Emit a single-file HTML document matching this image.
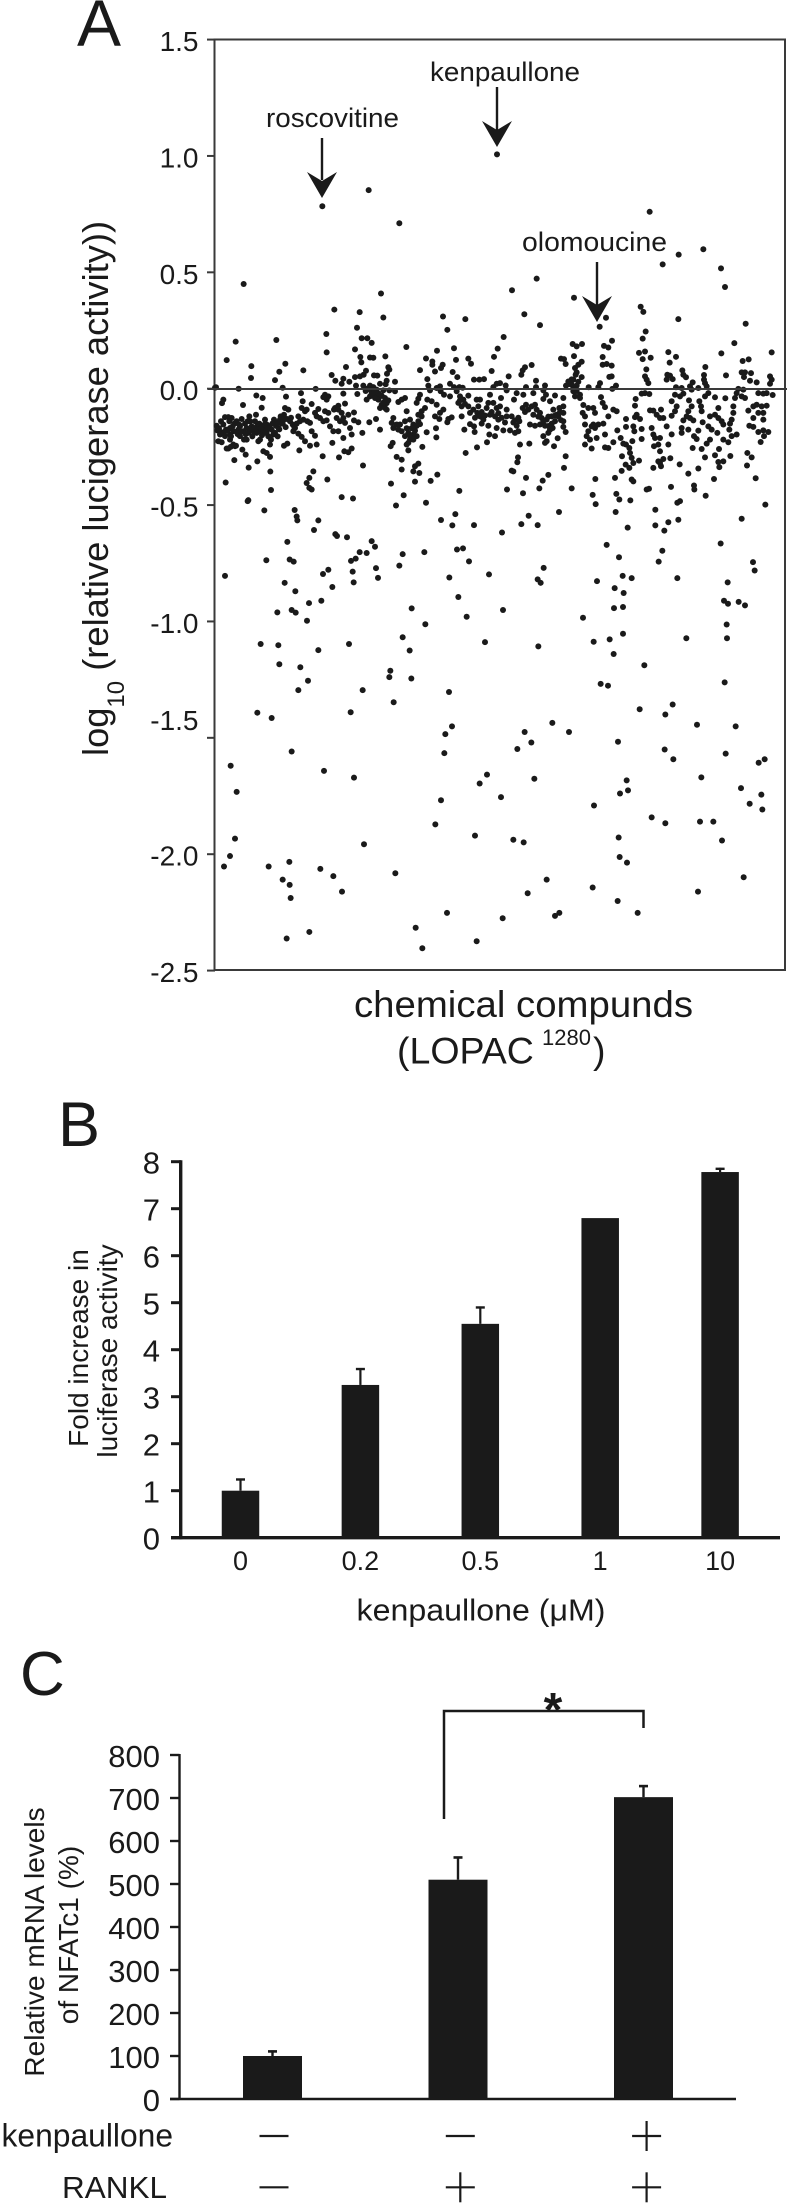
<!DOCTYPE html>
<html lang="en">
<head>
<meta charset="utf-8">
<title>Kenpaullone screening figure</title>
<style>
html,body{margin:0;padding:0;background:#fff;}
body{width:787px;height:2209px;overflow:hidden;}
svg{display:block;}
text{font-family:"Liberation Sans",Arial,sans-serif;fill:#1a1a1a;}
</style>
</head>
<body>
<svg id="figure" xmlns="http://www.w3.org/2000/svg" width="787" height="2209" viewBox="0 0 787 2209">
  <rect x="0" y="0" width="787" height="2209" fill="#fff"/>

  <!-- Panel A -->
  <g id="panel-a">
    <text x="77" y="46" font-size="66">A</text>
    <rect x="214.5" y="39.5" width="570.5" height="930.5" fill="none" stroke="#3a3a3a" stroke-width="2"/>
    <g id="a-ticks"></g>
    <g id="a-points"></g>
    <line x1="208" y1="389" x2="787" y2="389" stroke="#3a3a3a" stroke-width="2"/>
    <text transform="translate(108,756) rotate(-90)" font-size="36.3">log<tspan font-size="24" dy="16">10</tspan><tspan dy="-16"> (relative lucigerase activity))</tspan></text>
    <text x="354" y="1017" font-size="37" textLength="339" lengthAdjust="spacingAndGlyphs">chemical compunds</text>
    <text x="397" y="1063.3" font-size="37.5">(LOPAC<tspan x="542" y="1045" font-size="22">1280</tspan><tspan x="593" y="1063.3">)</tspan></text>

    <text x="266" y="127" font-size="27" textLength="133" lengthAdjust="spacingAndGlyphs">roscovitine</text>
    <line x1="322" y1="138" x2="322" y2="180" stroke="#1a1a1a" stroke-width="2.4"/>
    <path d="M322 198 L307 172 L322 181 L337 172 Z" fill="#1a1a1a"/>
    <text x="430" y="81" font-size="27" textLength="150" lengthAdjust="spacingAndGlyphs">kenpaullone</text>
    <line x1="497" y1="87" x2="497" y2="130" stroke="#1a1a1a" stroke-width="2.4"/>
    <path d="M497 147 L482 121 L497 130 L512 121 Z" fill="#1a1a1a"/>
    <text x="522" y="251" font-size="27" textLength="145" lengthAdjust="spacingAndGlyphs">olomoucine</text>
    <line x1="597" y1="262" x2="597" y2="305" stroke="#1a1a1a" stroke-width="2.4"/>
    <path d="M597 322 L582 296 L597 305 L612 296 Z" fill="#1a1a1a"/>
  </g>

  <!-- Panel B -->
  <g id="panel-b">
    <text x="58" y="1146" font-size="63">B</text>
    <g id="b-marks"></g>
    <text transform="translate(88,1348) rotate(-90)" font-size="28" text-anchor="middle">Fold increase in</text>
    <text transform="translate(117,1351) rotate(-90)" font-size="28" text-anchor="middle">luciferase activity</text>
    <text x="356.5" y="1620.7" font-size="31" textLength="249" lengthAdjust="spacingAndGlyphs">kenpaullone (μM)</text>
  </g>

  <!-- Panel C -->
  <g id="panel-c">
    <text x="20" y="1695" font-size="62">C</text>
    <g id="c-marks"></g>
    <path d="M444 1819 V1711 H643.5 V1728" fill="none" stroke="#1a1a1a" stroke-width="2.5"/>
    <text x="553" y="1726" font-size="48" font-weight="bold" text-anchor="middle">*</text>
    <text transform="translate(44,1942) rotate(-90)" font-size="28" text-anchor="middle">Relative mRNA levels</text>
    <text transform="translate(78,1935) rotate(-90)" font-size="28" text-anchor="middle">of NFATc1 (%)</text>
    <text x="1.5" y="2146.7" font-size="32" textLength="171.5" lengthAdjust="spacingAndGlyphs">kenpaullone</text>
    <text x="62" y="2198" font-size="31" textLength="105" lengthAdjust="spacingAndGlyphs">RANKL</text>
    <g id="c-signs"></g>
  </g>
</svg>

<script>
// ---------- Panel A data: compound rank (0-1710 along the axis) and log10 activity ----------
const scatterTicks = [1.5, 1.0, 0.5, 0.0, -0.5, -1.0, -1.5, -2.0, -2.5];
const scatterTickLabels = ["1.5", "1.0", "0.5", "0.0", "-0.5", "-1.0", "-1.5", "-2.0", "-2.5"];

const outlierRank = [322,461,553,846,1304,1391,1343,1465,1518,1530,86,965,891,498,1077];
const outlierValue = [.784,.853,.711,1.007,.76,.576,.534,.599,.517,.437,.45,.473,.423,.409,.391];

const bandLeftRank = [358,434,505,426,334,440,457,470,184,62,420,335,436,439,465,475,511,35,211,109,393,520,523,265,193,453,516,446,350,420,435,477,487,108,385,180,361,403,380,515,540,512,495,423,445,465,475,3,0,71,203,302,
258,427,455,465,485,505,523,540,385,124,143,213,330,340,325,335,465,455,480,495,490,500,515,510,495,25,21,84,140,263,290,390,370,360,550,
5,7,15,10,20,30,40,50,25,33,45,53,55,45,30,20,45,55,40,60,70,80,75,85,75,87,95,103,105,110,100,95,115,123,120,127,130,135,130,145,150,155,163,155,145,170,175,168,165,177,183,190,197,203,195,207,210,220,225,233,240,235,250,255,265,277,285,270,260,275,300,310,305,315,325,335,330,340,357,370,380,365,375,390,385,400,417,417,430,
345,355,370,405,410,442,463,483,495,250,260,290,300,270,285,305,207,217,253,352,385,
35,47,63,82,92,145,155,165,58,127,101,372,323,388,400,410,444,166,295,283,275,283,290,337,32,168,100,98,380,414,
535,530,535,545,550,533,527,545,528,543];
const bandLeftValue = [.34,.329,.306,.262,.235,.217,.217,.197,.209,.202,.169,.156,.136,.113,.134,.133,.139,.123,.107,.097,.093,.092,.082,.079,.073,.077,.064,.06,.059,.05,.053,.057,.056,.046,.043,.037,.034,.03,.021,.034,.03,.019,.021,.013,.013,.013,.007,.006,.004,0,.004,-.001,
-.019,-.023,-.001,-.004,-.004,-.007,-.007,-.011,-.021,-.029,-.04,-.034,-.026,-.033,-.036,-.047,-.033,-.047,-.026,-.033,-.047,-.069,-.062,-.083,-.083,-.047,-.062,-.07,-.082,-.054,-.066,-.064,-.073,-.083,-.057,
-.159,-.179,-.197,-.226,-.23,-.122,-.122,-.126,-.154,-.176,-.169,-.162,-.183,-.197,-.204,-.187,-.219,-.24,-.257,-.247,-.176,-.13,-.162,-.183,-.204,-.219,-.169,-.119,-.14,-.162,-.19,-.219,-.183,-.112,-.14,-.159,-.183,-.219,-.226,-.169,-.133,-.154,-.162,-.19,-.183,-.176,-.197,-.219,-.24,-.133,-.159,-.169,-.119,-.15,-.133,-.112,-.083,-.09,-.14,-.154,-.169,-.183,-.119,-.14,-.133,-.14,-.147,-.097,-.083,-.09,-.104,-.087,-.119,-.126,-.14,-.136,-.097,-.104,-.09,-.09,-.104,-.126,-.14,-.147,-.126,-.112,-.102,-.136,-.144,
-.162,-.183,-.183,-.169,-.197,-.19,-.144,-.13,-.176,-.193,-.207,-.183,-.202,-.226,-.245,-.24,-.245,-.236,-.265,-.233,-.212,
-.257,-.25,-.245,-.262,-.283,-.269,-.276,-.293,-.307,-.312,-.339,-.295,-.29,-.269,-.273,-.257,-.33,-.356,-.355,-.383,-.405,-.426,-.433,-.39,-.403,-.435,-.479,-.483,-.466,-.472,
-.126,-.147,-.169,-.154,-.176,-.233,-.247,-.293,-.408,-.502];

const bandMidRank = [684,751,928,975,697,866,574,717,666,848,837,633,723,760,652,652,768,683,678,615,950,930,923,919,660,713,727,830,881,777,793,807,637,963,
1073,1085,1101,1077,1038,1047,1052,1100,1090,1080,1082,1100,1075,1060,1070,1053,1085,
705,640,717,675,733,743,665,845,855,872,933,963,990,985,875,835,
570,560,615,610,605,645,677,687,705,725,735,745,760,785,795,825,858,905,897,925,955,993,1020,985,1005,1045,1075,1080,1095,637,650,665,575,630,620,610,685,675,660,673,710,700,697,
730,740,760,740,765,790,787,795,805,800,820,815,835,845,855,825,840,850,820,845,865,875,875,890,900,913,905,923,933,950,955,960,975,980,995,1010,1025,1033,1015,1045,1045,1045,1030,1020,975,960,945,990,1005,1000,985,995,990,1017,1028,1045,1052,1013,885,900,910,
555,570,585,595,610,620,615,560,570,585,595,605,580,595,575,580,622,635,663,664,748,765,777,779,823,840,816,786,752,915,943,
560,610,600,595,560,613,667,647,600,909,907,890,895,933,1000,983,973,1052,1047,1070,876,924,733,566,633,
1103,1110,1120,1110,1120,1115,1110,1121];
const bandMidValue = [.31,.299,.32,.273,.253,.222,.179,.174,.163,.172,.137,.13,.124,.129,.117,.103,.107,.103,.089,.08,.102,.092,.079,.06,.074,.072,.05,.076,.053,.039,.039,.041,.041,.034,
.192,.182,.192,.14,.129,.127,.106,.116,.103,.089,.06,.05,.039,.031,.017,.013,.013,
.021,.013,.007,.01,.007,.004,.003,.021,.024,.014,.007,.007,.014,-.007,-.007,.007,
-.04,-.047,-.026,-.043,-.061,-.007,-.011,-.026,-.033,-.011,-.033,-.047,-.03,-.047,-.047,-.026,-.04,-.019,-.047,-.026,-.019,-.026,-.029,-.044,-.054,-.04,-.011,-.033,-.026,-.047,-.054,-.069,-.097,-.083,-.097,-.112,-.09,-.104,-.119,-.13,-.123,-.13,-.144,
-.061,-.076,-.076,-.119,-.104,-.076,-.104,-.119,-.133,-.15,-.061,-.083,-.061,-.083,-.076,-.112,-.119,-.133,-.159,-.169,-.179,-.09,-.119,-.119,-.136,-.14,-.159,-.083,-.069,-.076,-.112,-.069,-.104,-.126,-.133,-.119,-.112,-.083,-.09,-.076,-.104,-.14,-.119,-.14,-.154,-.159,-.154,-.159,-.176,-.19,-.204,-.226,-.233,-.247,-.213,-.164,-.186,-.169,-.179,-.19,-.183,
-.154,-.14,-.133,-.154,-.14,-.119,-.152,-.183,-.204,-.219,-.197,-.204,-.233,-.219,-.24,-.265,-.25,-.187,-.17,-.209,-.176,-.152,-.162,-.186,-.197,-.204,-.23,-.252,-.276,-.24,-.236,
-.305,-.322,-.333,-.355,-.347,-.362,-.369,-.396,-.399,-.295,-.316,-.352,-.355,-.383,-.37,-.395,-.428,-.29,-.34,-.428,-.433,-.449,-.439,-.458,-.49,
-.104,-.119,-.083,-.154,-.183,-.204,-.24,.006];

const bandRightRank = [1277,1285,1390,1592,1173,1154,1292,1283,1191,1558,1167,1180,1272,1290,1360,1670,1519,1163,1283,1307,1383,1364,1601,1583,1163,1175,1190,1471,1294,1402,
1405,1413,1357,1365,1355,1373,1290,1295,1300,1533,1467,1467,1470,1580,1590,1608,1587,1605,1625,1665,1670,1665,1183,1190,1155,1203,1150,1192,1433,
1383,1400,1425,1450,1475,1570,1585,
1280,1290,1303,1158,1380,1395,1405,1430,1480,1470,1500,1531,1565,1560,1580,1590,1630,1645,1655,1673,
1262,1260,1163,1170,1195,1205,1370,1385,1422,1453,1458,1460,1430,1420,1555,1600,1615,1625,1640,1655,1135,1140,1180,1305,1315,1338,1325,1335,1345,1380,1370,
1265,1260,1275,1233,1415,1425,1435,1405,1510,1500,1485,1510,1520,1525,1555,1550,1545,1615,1630,1645,1645,1603,1615,
1135,1150,1165,1130,1140,1463,1480,1490,1507,1233,1255,1280,1258,1310,1355,1400,1400,1420,1450,1543,1565,1550,1630,1645,1660,1647,1637,1170,1145,1207,
1315,1320,1335,1330,1317,1370,1437,1445,1280,1252,1217,1225,1233,1243,1485,1475,1525,1540,1360,1433,1460,1512,1195,1170,1180,1130,1125,
1245,1250,1255,1221,1272,1232,1243,1220,1335,1345,1335,1330,1338,1315,1366,1394,1470,1500,1510,1525,1513,1546,1597,1610,1596,
1450,1420,1497,1622,1200,1250,1255,1141,1302,1295,1368,1437,1438,1204,1133,1213,1246,1142,1472,1395,1387,1651];
const bandRightValue = [.352,.33,.299,.279,.305,.266,.246,.215,.206,.196,.184,.177,.154,.16,.157,.156,.152,.136,.127,.133,.137,.112,.126,.119,.103,.106,.099,.093,.083,.079,
.06,.049,.06,.056,.039,.041,.053,.039,.024,.057,.059,.039,.024,.07,.07,.067,.05,.034,.027,.053,.039,.021,.051,.053,.024,.013,.007,-.001,.027,
.006,.003,.01,.003,.01,-.001,-.004,
-.021,-.019,-.023,-.036,-.026,-.033,-.021,-.004,-.019,-.033,-.037,-.041,-.019,-.04,-.033,-.04,-.019,-.021,-.019,-.027,
-.044,-.073,-.061,-.079,-.09,-.097,-.054,-.076,-.05,-.054,-.076,-.097,-.076,-.097,-.076,-.094,-.076,-.069,-.076,-.073,-.083,-.104,-.119,-.093,-.094,-.09,-.112,-.126,-.126,-.097,-.116,
-.112,-.122,-.13,-.13,-.119,-.126,-.136,-.136,-.083,-.112,-.119,-.126,-.14,-.154,-.104,-.133,-.15,-.126,-.104,-.104,-.133,-.159,-.164,
-.154,-.154,-.15,-.162,-.169,-.144,-.162,-.176,-.19,-.164,-.162,-.173,-.183,-.169,-.162,-.169,-.19,-.176,-.18,-.176,-.197,-.204,-.186,-.179,-.186,-.204,-.229,-.197,-.212,-.179,
-.197,-.212,-.212,-.24,-.247,-.196,-.204,-.216,-.216,-.225,-.212,-.236,-.24,-.255,-.219,-.236,-.219,-.23,-.24,-.255,-.259,-.259,-.23,-.252,-.255,-.257,-.219,
-.276,-.297,-.319,-.29,-.309,-.326,-.34,-.353,-.269,-.302,-.319,-.312,-.333,-.34,-.299,-.325,-.295,-.286,-.315,-.312,-.337,-.289,-.276,-.295,-.33,
-.343,-.365,-.388,-.385,-.383,-.39,-.398,-.388,-.43,-.433,-.422,-.416,-.433,-.452,-.456,-.476,-.48,-.496,-.46,-.483,-.49,-.498];

const denseBandRank = [12,18,27,37,43,48,58,65,68,73,78,90,92,98,107,112,118,125,133,138,141,148,152,158,160,172,180,186,188,193,200,205,212,216,228,238,245,
452,470,478,490,500,510,520,505,515,480,
735,750,775,780,800,810,830,850,860,870,895,910,930,940,965,970,985,1000,1020,1035,1038,1010,1000,
1062,1070,1075,1085,1090,1095,1105,1085,
590,600,580,585,575,590,605];
const denseBandValue = [-.17,-.14,-.19,-.18,-.14,-.205,-.15,-.14,-.195,-.155,-.185,-.15,-.195,-.14,-.175,-.205,-.17,-.19,-.15,-.17,-.2,-.155,-.19,-.17,-.205,-.15,-.19,-.145,-.205,-.175,-.15,-.135,-.165,-.13,-.125,-.165,-.15,
-.01,-.02,-.015,-.02,-.03,-.04,-.05,-.06,-.09,-.04,
-.05,-.065,-.09,-.125,-.1,-.115,-.1,-.105,-.125,-.145,-.145,-.125,-.1,-.09,-.09,-.12,-.14,-.12,-.115,-.1,-.135,-.15,-.16,
.02,.04,0,-.01,.03,-.04,-.07,.07,
-.17,-.18,-.19,-.2,-.17,-.215,-.16];

const lowerRank = [148,239,245,247,310,297,678,721,712,777,941,919,968,1032,1202,1238,1321,1321,1360,1390,1348,1580,861,361,366,396,217,470,480,1175,1517,
434,455,422,408,563,628,726,744,762,1342,1212,1331,1614,154,224,236,553,986,1619,30,324,340,413,483,489,416,703,822,968,977,1223,1250,1387,1146,1538,
209,352,241,1199,1226,730,319,282,1527,1539,1571,1590,1197,1224,590,187,230,242,864,755,276,1104,631,1535,
1224,563,1184,1536,1414,1136,810,402,137,190,970,310,584,1196,193,256,526,1288,523,589,279,1157,1179,1529,250,443,702,
536,1373,127,407,1274,1351,170,1446,1012,1562,711,691,929,1062,1209,949,230,907,1349,688,1532,1375,1649,1631,47,327,417,1459,816,794,958,1235,1239,1215,65,1578,1639,858,678,1604,1137,1642,
1310,661,1351,1455,1495,60,780,1211,895,926,1521,447,45,1214,223,1236,27,161,316,541,355,1586,203,995,224,1133,381,938,1449,227,1208,696,1268,1033,1020,863,602,283,215,785,622];
const lowerValue = [-.523,-.521,-.549,-.566,-.566,-.607,-.564,-.539,-.587,-.586,-.546,-.582,-.586,-.53,-.53,-.597,-.52,-.587,-.574,-.563,-.61,-.559,-.618,-.625,-.633,-.638,-.658,-.655,-.679,-.671,-.665,
-.702,-.706,-.73,-.74,-.711,-.702,-.691,-.686,-.742,-.696,-.724,-.743,-.745,-.737,-.734,-.743,-.76,-.77,-.781,-.804,-.796,-.778,-.786,-.771,-.813,-.832,-.811,-.798,-.819,-.834,-.804,-.814,-.814,-.827,-.832,
-.834,-.852,-.87,-.857,-.878,-.895,-.911,-.921,-.911,-.924,-.916,-.931,-.943,-.938,-.944,-.961,-.951,-.962,-.951,-.98,-.997,-.984,-1.012,-1.013,
-1.053,-1.068,-1.077,-1.072,-1.072,-1.087,-1.089,-1.097,-1.097,-1.102,-1.107,-1.123,-1.125,-1.14,-1.184,-1.197,-1.212,-1.188,-1.239,-1.245,-1.255,-1.268,-1.276,-1.262,-1.295,-1.295,-1.303,
-1.347,-1.357,-1.392,-1.39,-1.377,-1.4,-1.415,-1.444,-1.436,-1.451,-1.451,-1.484,-1.475,-1.475,-1.517,-1.52,-1.559,-1.548,-1.55,-1.566,-1.568,-1.592,-1.592,-1.607,-1.62,-1.642,-1.671,-1.67,-1.658,-1.696,-1.676,-1.683,-1.726,-1.739,-1.732,-1.716,-1.744,-1.755,-1.768,-1.783,-1.791,-1.808,
-1.842,-1.872,-1.867,-1.86,-1.86,-1.933,-1.92,-1.928,-1.938,-1.949,-1.941,-1.957,-2.008,-2.012,-2.033,-2.036,-2.053,-2.053,-2.063,-2.082,-2.094,-2.099,-2.109,-2.109,-2.132,-2.143,-2.161,-2.168,-2.161,-2.188,-2.201,-2.252,-2.252,-2.252,-2.265,-2.275,-2.316,-2.334,-2.362,-2.374,-2.404];

// ---------- Panel B data ----------
const doseLabels = ["0", "0.2", "0.5", "1", "10"];
const foldIncrease = [1.0, 3.25, 4.55, 6.8, 7.78];
const foldErrorTop = [1.26, 3.61, 4.92, 6.8, 7.87];
const foldTicks = [0, 1, 2, 3, 4, 5, 6, 7, 8];

// ---------- Panel C data ----------
const mrnaLevels = [100, 510, 702];
const mrnaErrorTop = [113, 564, 730];
const mrnaTicks = [0, 100, 200, 300, 400, 500, 600, 700, 800];
const kenpaulloneSigns = ["-", "-", "+"];
const ranklSigns = ["-", "+", "+"];

// ---------- Axis functions ----------
const SVG_NS = "http://www.w3.org/2000/svg";
const xA = function (rank) { return 215 + (rank / 1710) * 570; };
const yA = function (value) { return 388.7 - value * 232.75; };
const xB = function (k) { return 240.5 + k * 119.9; };
const yB = function (value) { return 1537.7 - value * 47; };
const xC = function (k) { return 272.5 + k * 185.5; };
const yC = function (value) { return 2099 - value * 0.43; };

function make(tag, attrs, parent, content) {
  const el = document.createElementNS(SVG_NS, tag);
  for (const key in attrs) { el.setAttribute(key, attrs[key]); }
  if (content !== undefined) { el.textContent = content; }
  parent.appendChild(el);
  return el;
}

// Panel A ticks
const aTicks = document.getElementById("a-ticks");
scatterTicks.forEach(function (tick, i) {
  const mark = make("line", { x1: 207, x2: 215, y1: yA(tick), y2: yA(tick), stroke: "#3a3a3a", "stroke-width": 2 }, aTicks);
  
  
  const shift = scatterTickLabels[i] === "-1.5" ? -18 : 1.5;
  const label = make("text", { x: 198.5, y: yA(tick) + 10 + shift, "font-size": 28, "text-anchor": "end" }, aTicks, scatterTickLabels[i]);
  
  
});

// Panel A points
const aPoints = document.getElementById("a-points");
function drawPoints(ranks, values) {
  const count = Math.min(ranks.length, values.length);
  for (let i = 0; i < count; i++) {
    const dot = make("circle", { cx: xA(ranks[i]), cy: yA(values[i]), r: 3, fill: "#1a1a1a" }, aPoints);
    
    
  }
}
drawPoints(outlierRank, outlierValue);
drawPoints(bandLeftRank, bandLeftValue);
drawPoints(bandMidRank, bandMidValue);
drawPoints(bandRightRank, bandRightValue);
drawPoints(denseBandRank, denseBandValue);
drawPoints(lowerRank, lowerValue);

// Panel B
const bMarks = document.getElementById("b-marks");
foldIncrease.forEach(function (value, k) {
  const bar = make("rect", { x: xB(k) - 18.75, y: yB(value), width: 37.5, height: yB(0) - yB(value), fill: "#1a1a1a" }, bMarks);
  
  
  if (foldErrorTop[k] > value) {
    const stem = make("line", { x1: xB(k), x2: xB(k), y1: yB(value), y2: yB(foldErrorTop[k]), stroke: "#1a1a1a", "stroke-width": 2.2 }, bMarks);
    
    
    const cap = make("line", { x1: xB(k) - 4.5, x2: xB(k) + 4.5, y1: yB(foldErrorTop[k]) + 1, y2: yB(foldErrorTop[k]) + 1, stroke: "#1a1a1a", "stroke-width": 2.4 }, bMarks);
    
    
  }
  const label = make("text", { x: xB(k), y: 1570, "font-size": 27, "text-anchor": "middle" }, bMarks, doseLabels[k]);
  
  
});
foldTicks.forEach(function (tick) {
  const mark = make("line", { x1: 171, x2: 181, y1: yB(tick), y2: yB(tick), stroke: "#1a1a1a", "stroke-width": 3 }, bMarks);
  
  
  const label = make("text", { x: 160, y: yB(tick) + 12, "font-size": 31, "text-anchor": "end" }, bMarks, String(tick));
  
  
});
const bYAxis = make("line", { x1: 180.7, x2: 180.7, y1: yB(8) - 1.5, y2: yB(0) + 1.5, stroke: "#1a1a1a", "stroke-width": 3.4 }, bMarks);


const bXAxis = make("line", { x1: 171, x2: 780, y1: yB(0), y2: yB(0), stroke: "#1a1a1a", "stroke-width": 3.3 }, bMarks);



// Panel C
const cMarks = document.getElementById("c-marks");
mrnaLevels.forEach(function (value, k) {
  const bar = make("rect", { x: xC(k) - 29.5, y: yC(value), width: 59, height: yC(0) - yC(value), fill: "#1a1a1a" }, cMarks);
  
  
  const stem = make("line", { x1: xC(k), x2: xC(k), y1: yC(value), y2: yC(mrnaErrorTop[k]), stroke: "#1a1a1a", "stroke-width": 2.4 }, cMarks);
  
  
  const cap = make("line", { x1: xC(k) - 4.5, x2: xC(k) + 4.5, y1: yC(mrnaErrorTop[k]) + 1, y2: yC(mrnaErrorTop[k]) + 1, stroke: "#1a1a1a", "stroke-width": 2.6 }, cMarks);
  
  
});
mrnaTicks.forEach(function (tick) {
  const mark = make("line", { x1: 170, x2: 179.5, y1: yC(tick), y2: yC(tick), stroke: "#1a1a1a", "stroke-width": 2.4 }, cMarks);
  
  
  const label = make("text", { x: 160, y: yC(tick) + 11.8, "font-size": 31, "text-anchor": "end" }, cMarks, String(tick));
  
  
});
const cYAxis = make("line", { x1: 179.5, x2: 179.5, y1: yC(800) - 1, y2: yC(0) + 1, stroke: "#1a1a1a", "stroke-width": 2.4 }, cMarks);


const cXAxis = make("line", { x1: 170, x2: 736, y1: yC(0), y2: yC(0), stroke: "#1a1a1a", "stroke-width": 2.4 }, cMarks);



// Treatment signs
const cSigns = document.getElementById("c-signs");
function drawSigns(signs, rowY) {
  signs.forEach(function (sign, k) {
    const cx = xC(k) + 1.5 + k * 0.8;
    const bar = make("line", { x1: cx - 14.5, x2: cx + 14.5, y1: rowY, y2: rowY, stroke: "#1a1a1a", "stroke-width": 2.2 }, cSigns);
    
    
    if (sign === "+") {
      const upright = make("line", { x1: cx, x2: cx, y1: rowY - 15, y2: rowY + 15, stroke: "#1a1a1a", "stroke-width": 2.2 }, cSigns);
      
      
    }
  });
}
drawSigns(kenpaulloneSigns, 2136);
drawSigns(ranklSigns, 2187.3);
</script>
</body>
</html>
